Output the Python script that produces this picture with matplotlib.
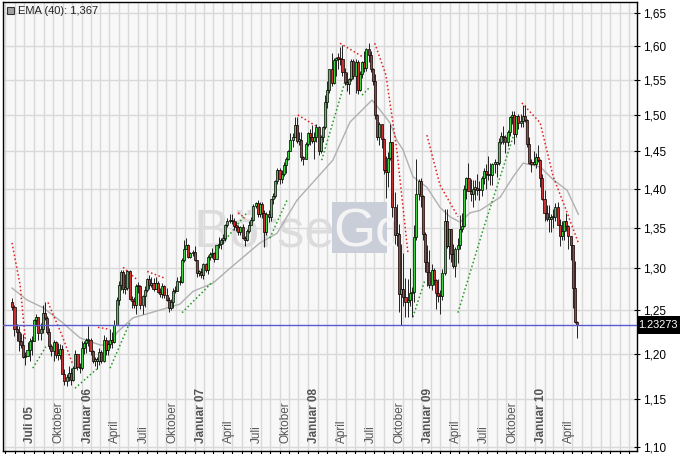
import datetime as dt
import numpy as np
import matplotlib
matplotlib.use("Agg")
import matplotlib.pyplot as plt
import matplotlib.dates as mdates
from matplotlib.patches import Rectangle
from matplotlib.ticker import FixedLocator, FuncFormatter, NullLocator

# ---------------- data (weekly candles, Monday dates) ----------------
first_week = "2005-05-23"
n_weeks = 261

opens = [
    # 2005
    1.2600,1.2540,1.2280,1.2250,1.2140,1.2100,1.1960,1.1970,1.2040,1.2140,1.2140,1.2380,1.2420,1.2230,1.2280,1.2470,
    1.2410,1.2250,1.2090,1.2030,1.2130,1.1990,1.1990,1.2050,1.1780,1.1700,1.1740,1.1790,1.1710,1.1840,1.2000,1.1850,
    # 2006
    1.1840,1.2070,1.2120,1.2150,1.2150,1.2030,1.1920,1.1920,1.1920,1.2020,1.1920,1.2150,1.2040,1.2110,1.2150,1.2130,
    1.2330,1.2620,1.2800,1.2950,1.2750,1.2760,1.2960,1.2630,1.2610,1.2560,1.2790,1.2780,1.2560,1.2670,1.2740,1.2870,
    1.2800,1.2820,1.2750,1.2820,1.2710,1.2690,1.2780,1.2680,1.2620,1.2530,1.2600,1.2730,1.2720,1.2850,1.2830,1.3100,
    1.3240,1.3280,1.3140,1.3180,
    # 2007
    1.3200,1.3100,1.2940,1.2950,1.2920,1.3050,1.2980,1.3130,1.3170,1.3180,1.3110,1.3280,1.3300,1.3340,1.3370,1.3530,
    1.3580,1.3600,1.3580,1.3520,1.3510,1.3440,1.3510,1.3370,1.3340,1.3460,1.3540,1.3600,1.3780,1.3810,1.3680,1.3800,
    1.3690,1.3440,1.3670,1.3640,1.3870,1.3900,1.4100,1.4250,1.4130,1.4200,1.4320,1.4390,1.4510,1.4650,1.4700,1.4860,
    1.4640,1.4660,1.4420,1.4390,1.4600,
    # 2008
    1.4750,1.4700,1.4640,1.4690,1.4830,1.4500,1.4690,1.4830,1.5190,1.5360,1.5660,1.5460,1.5790,1.5820,1.5810,1.5800,
    1.5610,1.5470,1.5440,1.5510,1.5770,1.5560,1.5760,1.5350,1.5590,1.5760,1.5680,1.5950,1.5870,1.5660,1.5480,1.5000,
    1.4690,1.4870,1.4670,1.4250,1.4220,1.4410,1.4620,1.3760,1.3410,1.3420,1.2690,1.2750,1.2650,1.2600,1.2620,1.2700,
    1.2710,1.3380,1.3930,1.4100,
    # 2009
    1.3900,1.3420,1.3070,1.2950,1.2800,1.2980,1.2860,1.2700,1.2670,1.2660,1.2940,1.3580,1.3270,1.3480,1.3170,1.3020,
    1.3230,1.3280,1.3490,1.3520,1.4000,1.4140,1.3970,1.3930,1.4000,1.4000,1.3990,1.3980,1.4140,1.4230,1.4200,1.4180,
    1.4180,1.4330,1.4330,1.4340,1.4620,1.4710,1.4690,1.4630,1.4770,1.4970,1.5000,1.4730,1.4980,1.4890,1.4910,1.4990,
    1.4930,1.4600,1.4340,1.4330,
    # 2010
    1.4330,1.4420,1.4380,1.4140,1.3870,1.3690,1.3610,1.3610,1.3630,1.3630,1.3770,1.3530,1.3400,1.3460,1.3580,1.3520,
    1.3390,1.3290,1.2760,1.2360,
]

highs = [
    # 2005
    1.2640,1.2560,1.2340,1.2320,1.2230,1.2220,1.2020,1.2130,1.2180,1.2200,1.2400,1.2460,1.2420,1.2350,1.2560,1.2590,
    1.2430,1.2290,1.2110,1.2160,1.2140,1.2120,1.2110,1.2100,1.1830,1.1780,1.1860,1.1840,1.1860,1.2040,1.2000,1.1900,
    # 2006
    1.2140,1.2140,1.2180,1.2320,1.2180,1.2040,1.1960,1.1960,1.2060,1.2040,1.2210,1.2190,1.2150,1.2280,1.2250,1.2390,
    1.2650,1.2840,1.2980,1.2980,1.2930,1.2980,1.2980,1.2670,1.2650,1.2810,1.2830,1.2800,1.2680,1.2780,1.2880,1.2920,
    1.2890,1.2880,1.2890,1.2850,1.2760,1.2820,1.2800,1.2760,1.2650,1.2630,1.2760,1.2790,1.2890,1.2900,1.3120,1.3340,
    1.3370,1.3300,1.3200,1.3220,
    # 2007
    1.3270,1.3100,1.2980,1.3000,1.3060,1.3060,1.3160,1.3200,1.3250,1.3200,1.3290,1.3380,1.3370,1.3420,1.3550,1.3620,
    1.3680,1.3680,1.3620,1.3580,1.3530,1.3520,1.3550,1.3400,1.3490,1.3590,1.3640,1.3800,1.3830,1.3850,1.3830,1.3830,
    1.3720,1.3700,1.3720,1.3870,1.3940,1.4120,1.4280,1.4270,1.4250,1.4350,1.4420,1.4520,1.4750,1.4750,1.4970,1.4970,
    1.4760,1.4760,1.4440,1.4630,1.4770,
    # 2008
    1.4800,1.4860,1.4760,1.4880,1.4840,1.4720,1.4850,1.5280,1.5480,1.5660,1.5900,1.5820,1.5840,1.5890,1.5980,1.6020,
    1.5670,1.5620,1.5530,1.5800,1.5800,1.5810,1.5790,1.5630,1.5780,1.5930,1.5970,1.6040,1.5920,1.5670,1.5580,1.5020,
    1.4900,1.4880,1.4680,1.4430,1.4490,1.4870,1.4620,1.3960,1.3800,1.3550,1.3300,1.3180,1.2880,1.2870,1.3000,1.2770,
    1.3540,1.4400,1.4130,1.4140,
    # 2009
    1.3920,1.3450,1.3290,1.3220,1.3050,1.3000,1.2870,1.2870,1.2740,1.2990,1.3740,1.3740,1.3480,1.3480,1.3300,1.3260,
    1.3370,1.3660,1.3690,1.4050,1.4160,1.4340,1.4130,1.4110,1.4110,1.4190,1.4100,1.4170,1.4280,1.4330,1.4440,1.4340,
    1.4340,1.4390,1.4350,1.4680,1.4770,1.4840,1.4720,1.4790,1.4980,1.5060,1.5060,1.4980,1.5020,1.5010,1.5140,1.5140,
    1.4940,1.4690,1.4400,1.4510,
    # 2010
    1.4480,1.4580,1.4400,1.4190,1.3990,1.3790,1.3790,1.3670,1.3740,1.3820,1.3830,1.3610,1.3580,1.3550,1.3690,1.3540,
    1.3400,1.3290,1.3090,1.2370,
]

lows = [
    # 2005
    1.2500,1.2200,1.2140,1.2030,1.2060,1.1950,1.1870,1.1970,1.1920,1.1990,1.2140,1.2310,1.2150,1.2160,1.2230,1.2390,
    1.2220,1.2050,1.1980,1.1920,1.1950,1.1930,1.1940,1.1770,1.1660,1.1640,1.1700,1.1660,1.1700,1.1840,1.1820,1.1790,
    # 2006
    1.1820,1.2000,1.2010,1.2090,1.1990,1.1900,1.1860,1.1830,1.1870,1.1900,1.1910,1.1990,1.1990,1.2060,1.2070,1.2120,
    1.2330,1.2560,1.2740,1.2700,1.2690,1.2740,1.2620,1.2520,1.2520,1.2460,1.2700,1.2510,1.2460,1.2540,1.2710,1.2750,
    1.2770,1.2730,1.2750,1.2700,1.2650,1.2640,1.2640,1.2610,1.2480,1.2500,1.2530,1.2700,1.2720,1.2800,1.2820,1.3080,
    1.3230,1.3120,1.3120,1.3150,
    # 2007
    1.3090,1.2890,1.2900,1.2880,1.2870,1.2950,1.2930,1.3100,1.3120,1.3080,1.3110,1.3250,1.3240,1.3300,1.3330,1.3510,
    1.3560,1.3550,1.3470,1.3460,1.3410,1.3410,1.3360,1.3270,1.3330,1.3430,1.3540,1.3590,1.3750,1.3640,1.3640,1.3620,
    1.3260,1.3410,1.3570,1.3580,1.3800,1.3880,1.4060,1.4060,1.4080,1.4170,1.4210,1.4380,1.4500,1.4560,1.4700,1.4610,
    1.4580,1.4370,1.4310,1.4390,1.4570,
    # 2008
    1.4580,1.4610,1.4400,1.4630,1.4450,1.4480,1.4630,1.4800,1.5100,1.5310,1.5410,1.5440,1.5550,1.5660,1.5710,1.5550,
    1.5420,1.5340,1.5300,1.5480,1.5520,1.5310,1.5290,1.5340,1.5530,1.5610,1.5630,1.5760,1.5620,1.5430,1.4940,1.4660,
    1.4580,1.4540,1.4190,1.3880,1.4030,1.4380,1.3630,1.3300,1.3270,1.2480,1.2330,1.2550,1.2420,1.2420,1.2550,1.2420,
    1.2590,1.3350,1.3860,1.3770,
    # 2009
    1.3340,1.2950,1.2790,1.2760,1.2740,1.2800,1.2510,1.2590,1.2460,1.2620,1.2920,1.3250,1.3110,1.3080,1.3000,1.2890,
    1.3060,1.3240,1.3440,1.3510,1.3870,1.3970,1.3840,1.3760,1.3850,1.3920,1.3850,1.3900,1.4060,1.4000,1.4120,1.4050,
    1.4050,1.4210,1.4150,1.4320,1.4600,1.4600,1.4480,1.4570,1.4710,1.4870,1.4600,1.4700,1.4800,1.4830,1.4830,1.4900,
    1.4560,1.4330,1.4220,1.4310,
    # 2010
    1.4270,1.4350,1.4030,1.3860,1.3590,1.3580,1.3450,1.3450,1.3500,1.3590,1.3530,1.3270,1.3340,1.3350,1.3460,1.3240,
    1.3100,1.2520,1.2350,1.2180,
]

closes = [
    # 2005
    1.2540,1.2280,1.2250,1.2140,1.2100,1.1960,1.1970,1.2040,1.2140,1.2140,1.2380,1.2420,1.2230,1.2280,1.2470,1.2410,
    1.2250,1.2090,1.2030,1.2130,1.1990,1.1990,1.2050,1.1780,1.1700,1.1740,1.1790,1.1710,1.1840,1.2000,1.1850,1.1840,
    # 2006
    1.2070,1.2120,1.2150,1.2150,1.2030,1.1920,1.1920,1.1920,1.2020,1.1920,1.2150,1.2040,1.2110,1.2150,1.2130,1.2330,
    1.2620,1.2800,1.2950,1.2750,1.2760,1.2960,1.2630,1.2610,1.2560,1.2790,1.2780,1.2560,1.2670,1.2740,1.2870,1.2800,
    1.2820,1.2750,1.2820,1.2710,1.2690,1.2780,1.2680,1.2620,1.2530,1.2600,1.2730,1.2720,1.2850,1.2830,1.3100,1.3240,
    1.3280,1.3140,1.3180,1.3200,
    # 2007
    1.3100,1.2940,1.2950,1.2920,1.3050,1.2980,1.3130,1.3170,1.3180,1.3110,1.3280,1.3300,1.3340,1.3370,1.3530,1.3580,
    1.3600,1.3580,1.3520,1.3510,1.3440,1.3510,1.3370,1.3340,1.3460,1.3540,1.3600,1.3780,1.3810,1.3680,1.3800,1.3690,
    1.3440,1.3670,1.3640,1.3870,1.3900,1.4100,1.4250,1.4130,1.4200,1.4320,1.4390,1.4510,1.4650,1.4700,1.4860,1.4640,
    1.4660,1.4420,1.4390,1.4600,1.4750,
    # 2008
    1.4700,1.4640,1.4690,1.4830,1.4500,1.4690,1.4830,1.5190,1.5360,1.5660,1.5460,1.5790,1.5820,1.5810,1.5800,1.5610,
    1.5470,1.5440,1.5510,1.5770,1.5560,1.5760,1.5350,1.5590,1.5760,1.5680,1.5950,1.5870,1.5660,1.5480,1.5000,1.4690,
    1.4870,1.4670,1.4250,1.4220,1.4410,1.4620,1.3760,1.3410,1.3420,1.2690,1.2750,1.2650,1.2600,1.2620,1.2700,1.2710,
    1.3380,1.3930,1.4100,1.3900,
    # 2009
    1.3420,1.3070,1.2950,1.2800,1.2980,1.2860,1.2700,1.2670,1.2660,1.2940,1.3580,1.3270,1.3480,1.3170,1.3020,1.3230,
    1.3280,1.3490,1.3520,1.4000,1.4140,1.3970,1.3930,1.4000,1.4000,1.3990,1.3980,1.4140,1.4230,1.4200,1.4180,1.4180,
    1.4330,1.4330,1.4340,1.4620,1.4710,1.4690,1.4630,1.4770,1.4970,1.5000,1.4730,1.4980,1.4890,1.4910,1.4990,1.4930,
    1.4600,1.4340,1.4330,1.4330,
    # 2010
    1.4420,1.4380,1.4140,1.3870,1.3690,1.3610,1.3610,1.3630,1.3630,1.3770,1.3530,1.3400,1.3460,1.3580,1.3520,1.3390,
    1.3290,1.2760,1.2360,1.2327,
]

# EMA(40) line
ema_dates = ["2005-05-22","2005-07-09","2005-08-29","2005-10-30","2005-12-27","2006-03-01","2006-04-03",
             "2006-04-25","2006-06-16","2006-09-01","2006-11-14","2006-12-26","2007-03-01","2007-04-25",
             "2007-07-30","2007-09-23","2007-11-26","2008-03-21","2008-05-15","2008-07-25","2008-08-20",
             "2008-09-21","2008-10-13","2008-11-02","2008-12-04","2009-01-18","2009-03-01","2009-04-02",
             "2009-05-05","2009-06-06","2009-07-08","2009-09-11","2009-10-23","2009-11-24","2010-01-18",
             "2010-03-01","2010-04-15","2010-05-21"]
ema_values = [1.276,1.262,1.253,1.236,1.218,1.210,1.209,
              1.224,1.241,1.249,1.257,1.272,1.282,1.300,
              1.331,1.343,1.385,1.438,1.490,1.521,1.507,
              1.489,1.465,1.452,1.416,1.402,1.376,1.364,
              1.357,1.369,1.372,1.389,1.416,1.434,1.429,
              1.412,1.398,1.367]

# stop lines (red above price, green below price)
red_stop_dates = [
    ["2005-05-22","2005-06-17","2005-07-04"],
    ["2005-09-15","2005-10-30","2005-12-04"],
    ["2006-02-23","2006-03-30"],
    ["2006-05-15","2006-06-26"],
    ["2006-08-01","2006-09-25"],
    ["2007-05-21","2007-06-12"],
    ["2007-11-29","2008-02-02"],
    ["2008-04-13","2008-06-24"],
    ["2008-08-03","2008-09-08","2008-10-13","2008-11-18"],
    ["2009-01-18","2009-03-01","2009-04-28"],
    ["2009-11-20","2010-01-18","2010-03-01","2010-04-15","2010-05-21"],
]
red_stop_values = [
    [1.331,1.280,1.216],
    [1.259,1.221,1.188],
    [1.230,1.228],
    [1.301,1.287],
    [1.296,1.288],
    [1.369,1.362],
    [1.500,1.483],
    [1.604,1.584],
    [1.604,1.557,1.452,1.318],
    [1.472,1.405,1.364],
    [1.517,1.489,1.416,1.369,1.331],
]
green_stop_dates = [
    ["2005-07-28","2005-09-08"],
    ["2005-12-11","2006-02-19"],
    ["2006-04-03","2006-06-05"],
    ["2006-11-21","2007-03-01"],
    ["2007-04-02","2007-06-18"],
    ["2007-08-31","2007-10-25"],
    ["2008-02-14","2008-04-28"],
    ["2008-06-23","2008-07-19"],
    ["2008-12-04","2009-01-12"],
    ["2009-04-28","2009-07-20","2009-10-23"],
]
green_stop_values = [
    [1.184,1.208],
    [1.162,1.183],
    [1.184,1.235],
    [1.247,1.284],
    [1.331,1.369],
    [1.337,1.385],
    [1.438,1.546],
    [1.528,1.540],
    [1.242,1.286],
    [1.247,1.350,1.470],
]

last_price = 1.23273
ema_label = "EMA (40): 1,367"

y_ticks = [1.10,1.15,1.20,1.25,1.30,1.35,1.40,1.45,1.50,1.55,1.60,1.65]
quarter_labels = ["Juli 05","Oktober","Januar 06","April","Juli","Oktober","Januar 07","April","Juli","Oktober",
                  "Januar 08","April","Juli","Oktober","Januar 09","April","Juli","Oktober","Januar 10","April"]
quarter_dates = ["2005-07-01","2005-10-01","2006-01-01","2006-04-01","2006-07-01","2006-10-01","2007-01-01",
                 "2007-04-01","2007-07-01","2007-10-01","2008-01-01","2008-04-01","2008-07-01","2008-10-01",
                 "2009-01-01","2009-04-01","2009-07-01","2009-10-01","2010-01-01","2010-04-01"]
bold_labels = {"Juli 05","Januar 06","Januar 07","Januar 08","Januar 09","Januar 10"}

# ---------------- drawing ----------------
def d(s):
    return mdates.date2num(dt.datetime.strptime(s, "%Y-%m-%d"))

week_x = d(first_week) + 7.0 * np.arange(n_weeks)

W, H = 680, 454
fig = plt.figure(figsize=(W / 100, H / 100), dpi=100)
fig.patch.set_facecolor("white")
ax = fig.add_axes([3 / W, 3 / H, 634 / W, 449 / H])
ax.set_facecolor("#f8f8f8")
ax.set_yscale("log")
ax.set_ylim(1.0958, 1.667)
ax.set_xlim(d("2005-04-23"), d("2010-11-26"))

# grid
month_x = [d(f"{y}-{m:02d}-01") for y in range(2005, 2011) for m in range(1, 13)]
for mx in month_x:
    ax.axvline(mx, color="#d9d9d9", lw=1, zorder=0.5)
for yv in y_ticks:
    ax.axhline(yv, color="#d9d9d9", lw=1, zorder=0.5)

# watermark
ax.text(0.300, 0.455, "Börse", transform=ax.transAxes, fontsize=39, color="#dcdcdc",
        family="Liberation Sans", ha="left", va="baseline", zorder=1)
ax.add_patch(Rectangle((0.519, 0.441), 0.086, 0.114, transform=ax.transAxes,
                       facecolor="#c9ced8", edgecolor="none", zorder=1))
ax.text(0.521, 0.455, "Go", transform=ax.transAxes, fontsize=39, color="#f4f4f4",
        family="Liberation Sans", ha="left", va="baseline", zorder=1.1)

# EMA
ax.plot([d(s) for s in ema_dates], ema_values, color="#b0b0b0", lw=1.0, zorder=2)

# stop lines
for ds, vs in zip(red_stop_dates, red_stop_values):
    ax.plot([d(s) for s in ds], vs, color="#e02020", lw=1.1, ls=(0, (1, 1.6)), zorder=2.2)
for ds, vs in zip(green_stop_dates, green_stop_values):
    ax.plot([d(s) for s in ds], vs, color="#209a20", lw=1.1, ls=(0, (1, 1.6)), zorder=2.2)

# candles
o = np.array(opens); h = np.array(highs); l = np.array(lows); c = np.array(closes)
ax.vlines(week_x, np.minimum(l, np.minimum(o, c)), np.maximum(h, np.maximum(o, c)),
          color="#222222", lw=0.7, zorder=3)
up = c >= o
body_lo = np.minimum(o, c)
body_hi = np.maximum(o, c)
body_hi = np.maximum(body_hi, body_lo * 1.0015)
cols = np.where(up, "#44d044", "#c83232")
ax.bar(week_x, body_hi - body_lo, bottom=body_lo, width=6.6, color=cols,
       edgecolor="black", linewidth=0.5, zorder=4)

# last price line
ax.axhline(last_price, color="#5a5ad0", lw=1.0, zorder=5)

# y axis on right
ax.yaxis.tick_right()
ax.yaxis.set_major_locator(FixedLocator(y_ticks))
ax.yaxis.set_minor_locator(NullLocator())
ax.yaxis.set_major_formatter(FuncFormatter(lambda v, p: f"{v:.2f}".replace(".", ",")))
ax.tick_params(axis="y", which="major", direction="inout", length=5, width=0.8,
               labelsize=8.5, pad=1.5, colors="black", labelfontfamily="Liberation Sans")

# x axis: monthly ticks, quarter labels drawn inside
ax.xaxis.set_major_locator(FixedLocator(month_x))
ax.xaxis.set_minor_locator(NullLocator())
ax.set_xticklabels([])
ax.tick_params(axis="x", which="major", direction="out", length=3, width=0.8)
for lab, ds in zip(quarter_labels, quarter_dates):
    ax.text(d(ds), 1.1045, lab, rotation=90, ha="left", va="bottom", fontsize=8.5,
            color="#555555", family="Liberation Sans",
            fontweight="bold" if lab in bold_labels else "normal", zorder=6)

for sp in ax.spines.values():
    sp.set_color("black")
    sp.set_linewidth(1.0)

# last price box
fig.patches.append(Rectangle((637 / W, 1 - 334 / H), 43 / W, 18 / H, transform=fig.transFigure,
                             facecolor="black", edgecolor="none", zorder=10))
fig.text(638.5 / W, 1 - 325 / H, f"{last_price:.5f}", color="white", fontsize=7.9,
         family="Liberation Sans", ha="left", va="center", zorder=11)

# legend
fig.patches.append(Rectangle((7 / W, 1 - 14 / H), 7 / W, 7 / H, transform=fig.transFigure,
                             facecolor="#a0a0a0", edgecolor="#333333", lw=0.8, zorder=10))
fig.text(18 / W, 1 - 10.5 / H, ema_label, fontsize=8, family="Liberation Sans",
         ha="left", va="center", color="#222222", zorder=11)

fig.savefig("out.png", dpi=100, facecolor="white")
